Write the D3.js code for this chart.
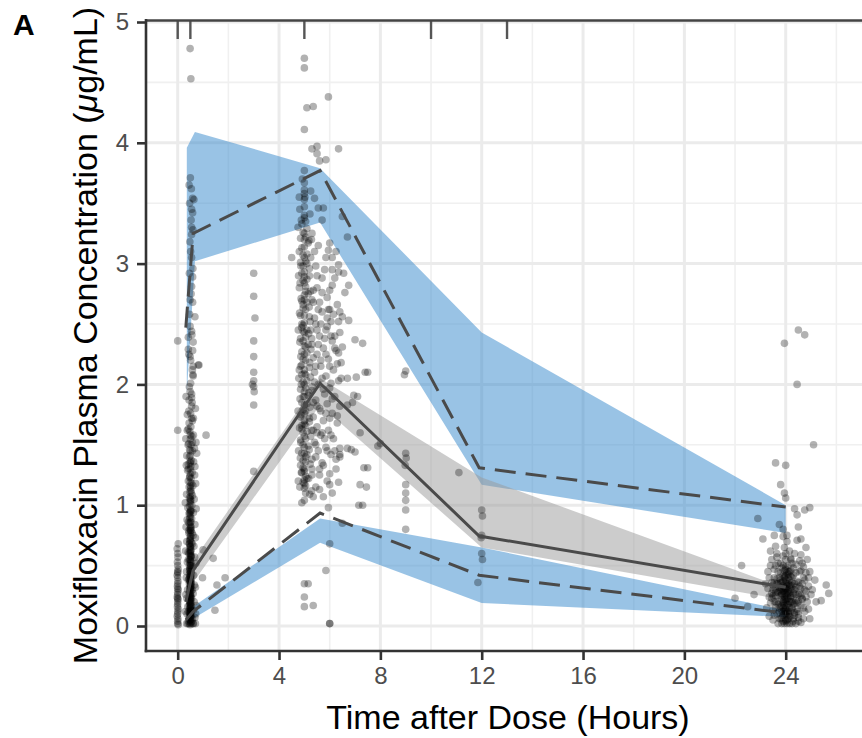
<!DOCTYPE html>
<html>
<head>
<meta charset="utf-8">
<script src="https://cdn.jsdelivr.net/npm/d3@7/dist/d3.min.js"></script>
<style>
  body { margin: 0; background: #fff; }
  text { font-family: "Liberation Sans", Arial, Helvetica, sans-serif; }
</style>
</head>
<body>
<svg id="chart" width="862" height="738"></svg>
<script>
// ---- data ----
var binEdges = [0, 0.5, 5, 10, 13];

// simulated prediction intervals (CI of 5th, 50th, 95th percentile)
var simTime = [0.36, 0.68, 5.62, 12.0, 24.0];
var sim95Lo = [1.93, 3.02, 3.34, 1.17, 0.77];
var sim95Hi = [3.96, 4.09, 3.79, 2.43, 1.00];
var sim50Lo = [0.08, 0.38, 1.83, 0.65, 0.215];
var sim50Hi = [0.22, 0.56, 2.05, 1.23, 0.31];
var sim05Lo = [0.02, 0.07, 0.69, 0.19, 0.075];
var sim05Hi = [0.08, 0.17, 0.89, 0.65, 0.13];

// observed percentiles
var obsTime = [0.32, 0.61, 5.62, 11.9, 24.0];
var obs95 = [2.47, 3.25, 3.77, 1.31, 0.985];
var obs50 = [0.20, 0.46, 2.01, 0.745, 0.32];
var obs05 = [0.05, 0.12, 0.935, 0.42, 0.107];

// observed concentrations [time, conc]
var obsPreDose = [[0,2.36],[0,1.62],[0.02,0.68],[-0.02,0.64],[0,0.6],[0.01,0.57],[-0.01,0.53],[0,0.5],
  [0.02,0.47],[0,0.45],[-0.02,0.42],[0,0.4],[0.01,0.37],[0,0.35],[-0.01,0.33],[0.02,0.3],[0,0.28],
  [0,0.26],[-0.02,0.24],[0.01,0.22],[0,0.2],[0,0.18],[-0.01,0.16],[0.02,0.14],[0,0.12],[0,0.1],
  [-0.02,0.08],[0.01,0.06],[0,0.04],[0,0.02],[0.02,0.01],[0,0.31],[0,0.44],[0,0.23]];

var obsHalfHour = [[0.49,4.78],[0.52,4.53],
  [0.5,3.71],[0.45,3.65],[0.59,3.54],[0.64,3.53],[0.55,3.45],[0.59,3.42],[0.55,3.3],[0.6,3.28],
  [0.55,3.24],[0.51,3.1],[0.6,2.96],[0.59,2.89],[0.55,2.81],[0.49,2.7],[0.59,2.68],[0.68,2.56],
  [0.49,2.48],[0.55,2.44],[0.42,2.39],[0.61,2.35],[0.42,2.29],[0.59,2.28],[0.49,2.23],[0.51,2.2],
  [0.81,2.16],[0.61,2.15],[0.61,2.07],[0.51,2.01],[0.49,1.94],[0.55,1.89],[0.55,1.82],[0.51,1.76],
  [0.55,1.72],[0.6,2.08],[0.75,1.43],[0.68,1.32],
  [0.45,1.68],[0.52,1.65],[0.48,1.61],[0.56,1.57],[0.5,1.55],[0.44,1.51],[0.53,1.5],[0.47,1.46],
  [0.58,1.45],[0.5,1.41],[0.46,1.4],[0.54,1.37],[0.49,1.35],[0.52,1.32],[0.43,1.3],[0.57,1.27],
  [0.5,1.26],[0.47,1.23],[0.53,1.22],[0.49,1.19],[0.55,1.18],[0.45,1.15],[0.51,1.14],[0.48,1.11],
  [0.54,1.1],[0.5,1.07],[0.46,1.06],[0.52,1.04],[0.49,1.03],[0.56,1.0],[0.47,0.99],[0.51,0.96],
  [0.53,0.95],[0.45,0.93],[0.5,0.92],[0.48,0.89],[0.55,0.89],[0.52,0.86],[0.46,0.85],[0.5,0.83],
  [0.53,0.82],[0.48,0.8],[0.51,0.79],[0.44,0.77],[0.57,0.77],[0.49,0.74],[0.52,0.74],[0.47,0.71],
  [0.5,0.71],[0.54,0.69],[0.46,0.68],[0.51,0.66],[0.49,0.66],[0.53,0.63],[0.48,0.63],[0.5,0.61],
  [0.45,0.6],[0.55,0.58],[0.52,0.58],[0.47,0.55],[0.5,0.55],[0.53,0.53],[0.49,0.52],[0.46,0.5],
  [0.51,0.5],[0.54,0.48],[0.48,0.48],[0.5,0.45],[0.52,0.45],[0.47,0.43],[0.55,0.43],[0.49,0.41],
  [0.51,0.41],[0.45,0.39],[0.53,0.39],[0.5,0.37],[0.48,0.37],[0.52,0.35],[0.46,0.35],[0.5,0.33],
  [0.54,0.33],[0.49,0.31],[0.51,0.31],[0.47,0.29],[0.53,0.29],[0.5,0.27],[0.45,0.27],[0.52,0.25],
  [0.48,0.25],[0.55,0.23],[0.5,0.23],[0.47,0.21],[0.51,0.21],[0.53,0.19],[0.49,0.19],[0.46,0.17],
  [0.52,0.17],[0.5,0.15],[0.48,0.15],[0.54,0.13],[0.51,0.13],[0.47,0.11],[0.5,0.11],[0.53,0.09],
  [0.49,0.09],[0.45,0.07],[0.52,0.07],[0.5,0.05],[0.48,0.05],[0.55,0.04],[0.51,0.03],[0.46,0.02],
  [0.53,0.02],[0.49,0.01],[0.6,0.02],[0.4,0.02],[0.35,0.02],[0.62,0.02],[0.7,0.02],
  [0.5,0.6],[0.52,0.5],[0.48,0.4],[0.5,0.3],[0.47,0.2],[0.53,0.16],[0.5,0.1],[0.51,0.81],
  [0.49,0.9],[0.5,1.01],[0.52,1.12],[0.48,1.24],[0.5,1.36],[0.51,0.62],[0.49,0.47],[0.5,0.34],
  [0.52,0.24],[0.48,0.12],[0.5,0.07],[0.5,0.72],[0.5,0.54],[0.51,0.44],[0.49,0.32],[0.5,0.18],
  [0.38,1.62],[0.62,1.58],[0.41,1.5],[0.66,1.47],[0.36,1.41],[0.63,1.36],[0.39,1.29],[0.67,1.25],
  [0.42,1.2],[0.6,1.16],[0.35,1.09],[0.65,1.05],[0.4,0.98],[0.62,0.94],[0.37,0.88],[0.68,0.84],
  [0.43,0.79],[0.61,0.75],[0.36,0.7],[0.64,0.66],[0.41,0.61],[0.67,0.57],[0.38,0.53],[0.6,0.49],
  [0.35,0.45],[0.63,0.42],[0.42,0.38],[0.66,0.34],[0.39,0.3],[0.61,0.27],[0.36,0.23],[0.65,0.2],
  [0.4,0.16],[0.62,0.13],[0.37,0.1],[0.68,0.07],[0.43,0.04],[0.58,1.7],[0.44,1.78],[0.57,1.85],
  [0.46,1.98],[0.58,2.12],[0.44,2.25],[0.56,2.41],[0.47,2.58],[0.53,2.75],[0.46,2.92],[0.55,3.05],
  [0.48,3.18],[0.53,3.36],[0.47,3.5],[0.54,3.62],
  [0.5,0.65],[0.5,0.58],[0.5,0.42],[0.5,0.38],[0.5,0.26],[0.5,0.22],[0.5,0.14],[0.5,0.08],
  [0.5,0.77],[0.5,0.86],[0.5,0.95],[0.5,1.05],[0.5,1.16],[0.5,1.3],[0.5,1.45],[0.5,1.58],
  [0.53,0.57],[0.47,0.46],[0.53,0.36],[0.47,0.24],[0.53,0.12],[0.47,0.68],[0.53,0.79],[0.47,0.94],
  [0.33,1.9],[0.7,1.8],[0.32,1.55],[0.72,1.52],[0.34,1.33],[0.71,1.18],[0.3,1.02],[0.73,0.97],
  [0.33,0.82],[0.7,0.73],[0.31,0.62],[0.72,0.52],[0.34,0.4],[0.7,0.32],[0.32,0.26],[0.73,0.17],
  [0.3,0.12],[0.71,0.1],[0.55,1.92],[0.45,1.87],[0.62,1.72],[0.38,1.75],[0.58,0.06],[0.42,0.12],
  [0.58,0.3],[0.42,0.55],[0.58,0.68],[0.42,0.86],[0.58,1.08],[0.42,1.34],[0.58,1.52],[0.42,1.63]];

var obsEarly = [[1.12,1.58],[0.84,2.16],[1.0,0.63],[1.4,0.56],[0.98,0.4],[1.87,0.4],[1.47,0.13],
  [1.55,0.34],[3.0,2.92],[3.0,2.73],[3.05,2.55],[3.0,2.36],[3.0,2.23],[3.0,2.1],[3.0,1.98],
  [3.02,1.94],[3.0,1.83],[3.0,1.28],[2.95,2.0],[3.0,2.03]];

var obsPeak = [[5.0,4.7],[5.0,4.62],[5.1,4.29],[5.35,4.3],[5.0,4.11],[5.95,4.38],
  [5.3,3.95],[5.5,3.97],[5.5,3.91],[5.6,3.85],[5.85,3.86],[6.35,3.95],
  [5.0,3.77],[5.0,3.67],[5.0,3.61],[5.0,3.53],[5.0,3.47],[5.0,3.4],[5.0,3.38],[5.4,3.54],
  [5.55,3.46],[5.75,3.46],[5.7,3.36],[6.5,3.39],[6.7,3.22],[4.5,3.05],[6.0,3.17],[5.95,3.11],
  [6.1,3.05],[6.35,2.99],[6.1,2.95],[6.55,2.92],[6.35,2.93],[6.75,2.82],[6.6,2.76],[6.0,2.78],
  [6.4,2.6],[6.5,2.56],[6.75,2.53],[7.0,2.37],[7.3,2.34],[6.5,2.31],[6.35,2.26],[7.05,2.06],
  [7.5,2.1],[6.7,2.05],[7.1,1.9],[6.9,1.85],[7.2,1.6],[7.0,1.44],[6.7,1.47],[7.5,1.31],
  [7.45,1.15],[7.3,1.0],[8.0,1.51],[7.9,1.49],[6.4,1.47],[6.4,1.4],[7.4,2.1],[6.95,1.91],
  [6.7,1.83],[6.85,1.46],[7.35,1.31],[7.2,1.17],[7.15,1.0],[6.4,1.42],[6.35,1.19],[5.95,0.98],
  [5.75,1.07],[5.35,1.07],[5.05,1.1],[5.0,1.14],[5.0,1.21],[4.95,1.31],[5.6,1.13],[6.0,1.17],
  [6.5,0.85],[6.0,0.68],[5.85,0.46],[5.0,0.35],[5.15,0.35],[5.0,0.24],[5.0,0.16],[5.35,0.17],
  [6.0,0.02],[6.0,0.02],
  [4.9,3.33],[5.1,3.29],[4.95,3.26],[5.05,3.22],[4.85,3.21],[5.15,3.17],[5.0,3.14],[4.9,3.13],
  [5.1,3.08],[4.95,3.07],[5.05,3.02],[4.85,3.01],[5.2,2.96],[5.0,2.93],[4.9,2.92],[5.1,2.87],
  [4.95,2.86],[5.05,2.81],[4.8,2.8],[5.15,2.75],[5.0,2.74],[4.9,2.69],[5.1,2.68],[4.95,2.63],
  [5.05,2.62],[4.85,2.57],[5.2,2.56],[5.0,2.51],[4.9,2.5],[5.1,2.45],[4.95,2.44],[5.05,2.39],
  [4.85,2.38],[5.15,2.33],[5.0,2.32],[4.9,2.27],[5.1,2.26],[4.95,2.21],[5.05,2.2],[4.85,2.15],
  [5.2,2.14],[5.0,2.09],[4.9,2.08],[5.1,2.03],[4.95,2.02],[5.05,1.97],[4.85,1.96],[5.15,1.91],
  [5.0,1.9],[4.9,1.85],[5.1,1.84],[4.95,1.79],[5.05,1.78],[4.85,1.73],[5.2,1.72],[5.0,1.67],
  [4.9,1.66],[5.1,1.61],[4.95,1.6],[5.05,1.55],[4.85,1.54],[5.15,1.49],[5.0,1.48],[4.9,1.43],
  [5.1,1.42],[4.95,1.37],[5.05,1.36],[4.85,1.33],[5.0,1.28],[4.9,1.27],[5.1,1.22],[4.95,1.19],
  [5.05,1.16],[5.0,1.04],[4.9,1.63],[5.0,1.94],[5.05,2.31],[4.95,2.66],[5.0,2.89],[5.1,3.0],
  [4.9,2.16],[5.0,1.76],[5.05,1.4],[4.95,2.49],[5.0,3.25],[5.0,3.58],[4.92,3.7],[5.02,3.55],
  [5.4,3.1],[5.8,2.95],[6.2,2.88],[5.5,2.8],[5.9,2.72],[5.35,2.68],[6.3,2.66],[5.7,2.6],
  [6.05,2.52],[5.45,2.5],[5.85,2.45],[6.4,2.43],[5.6,2.4],[6.1,2.36],[5.3,2.33],[5.75,2.3],
  [6.25,2.28],[5.5,2.25],[5.95,2.21],[6.45,2.18],[5.65,2.15],[6.15,2.12],[5.4,2.1],[5.85,2.07],
  [6.35,2.03],[5.55,2.0],[6.0,1.97],[5.3,1.95],[5.8,1.92],[6.2,1.9],[5.45,1.87],[5.9,1.84],
  [6.4,1.82],[5.6,1.8],[6.1,1.76],[5.35,1.73],[5.75,1.7],[6.3,1.68],[5.5,1.65],[5.95,1.62],
  [5.65,1.58],[6.15,1.55],[5.4,1.52],[5.85,1.48],[5.55,1.45],[6.05,1.42],[5.3,1.38],[5.7,1.35],
  [6.25,1.3],[5.6,1.25],[5.9,1.2],[5.45,1.15],[6.1,1.1],[5.75,1.33],
  [4.82,3.45],[5.22,3.41],[4.88,3.36],[5.18,3.19],[4.8,3.1],[5.25,3.05],[4.86,2.98],[5.2,2.9],
  [4.83,2.84],[5.24,2.77],[4.87,2.71],[5.19,2.64],[4.81,2.59],[5.23,2.52],[4.89,2.47],[5.17,2.42],
  [4.82,2.35],[5.26,2.29],[4.86,2.23],[5.21,2.18],[4.8,2.12],[5.24,2.06],[4.88,2.0],[5.18,1.93],
  [4.83,1.88],[5.22,1.81],[4.87,1.75],[5.2,1.69],[4.81,1.64],[5.25,1.57],[4.86,1.52],[5.19,1.46],
  [4.84,1.39],[5.23,1.34],[4.88,1.27],[5.17,1.22],[4.82,1.15],[5.21,1.09],[4.9,1.02],
  [5.0,3.2],[5.0,3.05],[5.0,2.84],[5.0,2.7],[5.0,2.57],[5.0,2.43],[5.0,2.25],[5.0,2.12],
  [5.0,2.0],[5.0,1.83],[5.0,1.7],[5.0,1.57],[5.0,1.43],[5.0,1.3],[5.0,1.18],[5.05,3.35],
  [4.95,2.98],[5.05,2.77],[4.95,2.36],[5.05,2.08],[4.95,1.9],[5.05,1.66],[4.95,1.5],[5.05,1.24],
  [5.5,2.9],[5.7,2.76],[6.0,2.62],[5.4,2.55],[5.9,2.48],[6.2,2.4],[5.55,2.33],[5.85,2.25],
  [6.3,2.17],[5.45,2.15],[5.7,2.05],[6.05,2.01],[5.35,1.85],[5.65,1.78],[6.0,1.72],[5.5,1.6],
  [5.8,1.55],[6.2,1.45],[5.45,1.4],[5.6,2.68],[6.15,2.58],
  [5.3,3.25],[5.55,3.15],[5.85,3.05],[6.25,3.1],[5.45,2.98],[5.7,2.88],[6.1,2.82],[5.35,2.78],
  [5.95,2.62],[6.35,2.52],[5.5,2.45],[5.8,2.38],[6.2,2.3],[5.35,2.22],[5.65,2.2],[6.0,2.15],
  [6.45,2.05],[5.4,2.02],[5.75,1.96],[6.1,1.88],[5.5,1.82],[5.85,1.76],[6.3,1.74],[5.35,1.62],
  [5.7,1.6],[6.05,1.58],[5.45,1.5],[5.9,1.45],[6.25,1.38],[5.6,1.3],[5.3,1.25],[6.0,1.26],
  [5.55,2.62],[5.9,2.55],[5.25,2.45],[5.65,2.5],[6.05,2.4],
  [4.75,3.3],[5.28,3.2],[4.77,2.9],[5.3,2.7],[4.76,2.45],[5.29,2.38],[4.78,2.05],[5.3,1.98],
  [4.75,1.78],[5.28,1.62],[4.77,1.45],[5.3,1.3],[4.76,1.2],[5.29,1.12],[4.8,3.55],[5.25,3.6]];

var obsMid = [[9.0,2.11],[9.0,1.43],[9.02,1.39],[8.98,1.33],[9.0,1.17],[9.0,1.1],[9.0,1.04],
  [9.0,0.96],[9.0,0.8],[8.95,2.08],[11.1,1.27],[12.0,0.96],[12.03,0.91],[12.0,0.75],[11.98,0.73],
  [12.0,0.6],[12.03,0.55],[11.85,0.36]];

var obsTrough = [[23.95,2.34],[24.5,2.45],[24.75,2.41],[24.45,2.0],[25.1,1.5],[23.6,1.35],
  [24.0,1.33],[23.8,1.17],[23.95,1.1],[24.0,1.06],[24.35,0.97],[24.45,0.92],[24.75,0.96],
  [24.95,0.98],[22.9,0.89],[23.1,0.72],[23.75,0.84],[23.9,0.8],[24.5,0.82],[24.05,0.75],
  [24.45,0.71],[22.26,0.5],[22.0,0.23],[22.5,0.16],[22.75,0.26],[25.6,0.34],[25.7,0.27],
  [25.4,0.21],[24.15,0.62],[23.6,0.66],
  [23.9,0.58],[24.2,0.55],[23.7,0.52],[24.4,0.51],[24.0,0.49],[23.55,0.47],[24.6,0.46],
  [24.1,0.45],[23.8,0.44],[24.3,0.42],[23.95,0.41],[24.7,0.4],[23.65,0.39],[24.15,0.38],
  [24.45,0.37],[23.85,0.36],[24.05,0.35],[23.5,0.34],[24.55,0.33],[24.25,0.33],[23.75,0.32],
  [24.0,0.31],[24.35,0.3],[23.9,0.29],[24.8,0.29],[23.6,0.28],[24.1,0.27],[24.5,0.26],
  [23.8,0.25],[24.2,0.25],[23.95,0.24],[24.65,0.23],[23.45,0.23],[24.05,0.22],[24.4,0.21],
  [23.7,0.2],[24.15,0.2],[23.9,0.19],[24.3,0.18],[24.6,0.17],[23.85,0.17],[24.0,0.16],
  [23.6,0.15],[24.25,0.15],[24.45,0.14],[23.95,0.13],[24.1,0.12],[23.75,0.12],[24.35,0.11],
  [24.0,0.1],[23.9,0.09],[24.2,0.08],[24.5,0.07],[23.8,0.06],[24.05,0.05],[24.3,0.04],
  [23.7,0.02],[23.95,0.02],[24.4,0.02],[24.15,0.02],[24.6,0.03],
  [24.0,0.3],[24.1,0.35],[23.95,0.4],[24.05,0.25],[24.0,0.2],[24.2,0.3],[23.85,0.27],
  [24.1,0.43],[24.0,0.14],[23.9,0.33],[24.15,0.28],[24.05,0.18],[23.95,0.22],[24.25,0.36],
  [24.0,0.47],[23.8,0.38],[24.3,0.24],[24.1,0.1],[24.0,0.05],[23.9,0.15],[24.2,0.41],
  [24.05,0.31],[23.75,0.29],[24.35,0.19],[24.9,0.33],[25.0,0.26],[24.85,0.2],[23.3,0.31],
  [23.4,0.19],[25.15,0.38],[24.75,0.12],[23.55,0.09],[24.55,0.54],[23.65,0.57],[24.8,0.44],
  [23.85,0.48],[24.2,0.46],[24.05,0.44],[23.9,0.42],[24.25,0.4],[24.0,0.38],[23.8,0.36],
  [24.15,0.34],[23.95,0.32],[24.3,0.3],[24.05,0.28],[23.85,0.26],[24.2,0.24],[24.0,0.22],
  [23.9,0.2],[24.1,0.18],[23.8,0.16],[24.25,0.14],[24.05,0.12],[23.95,0.1],[24.15,0.08],
  [23.85,0.07],[24.3,0.06],[24.0,0.04],[23.7,0.45],[24.4,0.44],[23.65,0.35],[24.5,0.36],
  [23.6,0.25],[24.55,0.27],[23.7,0.18],[24.45,0.19],[23.65,0.1],[24.5,0.1],[23.55,0.4],
  [24.6,0.31],[23.5,0.3],[24.65,0.22],[23.55,0.2],[24.7,0.15],
  [24.0,0.36],[24.1,0.4],[23.9,0.37],[24.05,0.33],[23.95,0.28],[24.1,0.23],[23.95,0.17],
  [24.0,0.26],[24.2,0.2],[23.85,0.22],[24.1,0.29],[24.0,0.12],[24.15,0.15],[23.9,0.12],
  [24.05,0.08],[24.2,0.34],[23.85,0.31],[24.0,0.42],[24.1,0.5],[23.9,0.5],[24.2,0.56],
  [24.0,0.6],[23.95,0.65],[24.3,0.48],[23.75,0.4],[24.4,0.26],[23.6,0.31],[24.35,0.09],
  [23.75,0.06],[24.25,0.02],[23.85,0.02],[24.05,0.02],[24.5,0.04],[23.5,0.13],[24.8,0.24],
  [24.9,0.14],[23.35,0.24],[23.45,0.36],[24.7,0.49],[24.6,0.59],[23.45,0.55],[24.05,0.7],
  [23.9,0.74],
  [23.3,0.45],[23.2,0.35],[23.25,0.15],[23.35,0.08],[24.85,0.55],[24.95,0.45],[25.05,0.3],
  [24.95,0.06],[25.2,0.2],[23.4,0.62],[24.8,0.65],[23.55,0.75],[24.6,0.72],[23.4,0.5],
  [24.75,0.38],[23.45,0.27],[24.75,0.3],[23.5,0.05],[24.7,0.06],[23.35,0.4],[24.9,0.4],
  [24.65,0.52],[23.6,0.5],[24.55,0.45],[23.65,0.6],[24.35,0.6],[23.7,0.28],[24.35,0.35],
  [23.75,0.15],[24.45,0.12],[23.8,0.52],[24.25,0.52],[23.85,0.12],[24.3,0.27],[23.9,0.04],
  [24.2,0.12],[23.95,0.46],[24.1,0.06],[24.0,0.55],[24.15,0.45],[23.8,0.3],[24.25,0.2],
  [23.7,0.35],[24.4,0.32],[23.6,0.2],[24.5,0.2],[23.5,0.25],[24.6,0.25],[23.55,0.36],
  [24.65,0.35]];

// ---- layout ----
var W = 862, H = 738;
var panel = { left: 146, right: 875, top: 20, bottom: 651 };

var svg = d3.select('#chart');
var x = d3.scaleLinear().domain([0, 24]).range([177.7, 785.7]);
var y = d3.scaleLinear().domain([0, 5]).range([626, 22]);

svg.append('defs').append('clipPath').attr('id', 'clip')
  .append('rect')
  .attr('x', panel.left).attr('y', panel.top)
  .attr('width', panel.right - panel.left).attr('height', panel.bottom - panel.top);

// grid
var grid = svg.append('g');
[2, 6, 10, 14, 18, 22, 26].forEach(function (v) {
  grid.append('line').attr('x1', x(v)).attr('x2', x(v)).attr('y1', panel.top).attr('y2', panel.bottom)
    .attr('stroke', '#f0f0f0').attr('stroke-width', 1.6);
});
[0.5, 1.5, 2.5, 3.5, 4.5].forEach(function (v) {
  grid.append('line').attr('y1', y(v)).attr('y2', y(v)).attr('x1', panel.left).attr('x2', panel.right)
    .attr('stroke', '#f0f0f0').attr('stroke-width', 1.6);
});
[0, 4, 8, 12, 16, 20, 24].forEach(function (v) {
  grid.append('line').attr('x1', x(v)).attr('x2', x(v)).attr('y1', panel.top).attr('y2', panel.bottom)
    .attr('stroke', '#ebebeb').attr('stroke-width', 3);
});
[0, 1, 2, 3, 4, 5].forEach(function (v) {
  grid.append('line').attr('y1', y(v)).attr('y2', y(v)).attr('x1', panel.left).attr('x2', panel.right)
    .attr('stroke', '#ebebeb').attr('stroke-width', 3);
});

var plot = svg.append('g').attr('clip-path', 'url(#clip)');

// ribbons
function ribbon(lo, hi) {
  var rows = simTime.map(function (t, i) { return { t: t, lo: lo[i], hi: hi[i] }; });
  return d3.area()
    .x(function (d) { return x(d.t); })
    .y0(function (d) { return y(d.lo); })
    .y1(function (d) { return y(d.hi); })(rows);
}
plot.append('path').attr('d', ribbon(sim95Lo, sim95Hi)).attr('fill', '#3388cc').attr('fill-opacity', 0.5);
plot.append('path').attr('d', ribbon(sim05Lo, sim05Hi)).attr('fill', '#3388cc').attr('fill-opacity', 0.5);
plot.append('path').attr('d', ribbon(sim50Lo, sim50Hi)).attr('fill', '#999999').attr('fill-opacity', 0.5);

// observed points
var allPts = [].concat(obsPreDose, obsHalfHour, obsEarly, obsPeak, obsMid, obsTrough);
plot.selectAll('circle.obs').data(allPts).enter().append('circle')
  .attr('class', 'obs')
  .attr('cx', function (d) { return x(d[0]); })
  .attr('cy', function (d) { return y(d[1]); })
  .attr('r', 3.8)
  .attr('fill', '#000')
  .attr('fill-opacity', 0.3);

// observed percentile lines
var line = d3.line()
  .x(function (d) { return x(d[0]); })
  .y(function (d) { return y(d[1]); });
function pts(vals) { return obsTime.map(function (t, i) { return [t, vals[i]]; }); }
plot.append('path').attr('d', line(pts(obs95))).attr('fill', 'none')
  .attr('stroke', '#4a4a4a').attr('stroke-width', 3).attr('stroke-dasharray', '21,10');
plot.append('path').attr('d', line(pts(obs05))).attr('fill', 'none')
  .attr('stroke', '#4a4a4a').attr('stroke-width', 3).attr('stroke-dasharray', '21,10');
plot.append('path').attr('d', line(pts(obs50))).attr('fill', 'none')
  .attr('stroke', '#4a4a4a').attr('stroke-width', 3);

// bin separators along the top
binEdges.forEach(function (b) {
  svg.append('line').attr('x1', x(b)).attr('x2', x(b)).attr('y1', panel.top).attr('y2', 39)
    .attr('stroke', '#555').attr('stroke-width', 2.4);
});
svg.append('line').attr('x1', panel.left).attr('x2', W).attr('y1', panel.top + 0.5).attr('y2', panel.top + 0.5)
  .attr('stroke', '#444').attr('stroke-width', 2.4);

// axes
var fmt = d3.format('d');
var yAxis = d3.axisLeft(y).tickValues([0, 1, 2, 3, 4, 5]).tickFormat(fmt)
  .tickSize(9).tickPadding(8).tickSizeOuter(0);
var xAxis = d3.axisBottom(x).tickValues([0, 4, 8, 12, 16, 20, 24]).tickFormat(fmt)
  .tickSize(9).tickPadding(7).tickSizeOuter(0);

var gy = svg.append('g').attr('transform', 'translate(' + panel.left + ',0)').call(yAxis);
var gx = svg.append('g').attr('transform', 'translate(0,' + panel.bottom + ')').call(xAxis);
[gy, gx].forEach(function (g) {
  g.select('.domain').remove();
  g.selectAll('.tick line').attr('stroke', '#333').attr('stroke-width', 2.6);
  g.selectAll('.tick text').attr('fill', '#4d4d4d').style('font-size', '24px')
    .style('font-family', '"Liberation Sans", Arial, sans-serif');
});
svg.append('line').attr('x1', panel.left).attr('x2', panel.left).attr('y1', panel.top - 1).attr('y2', panel.bottom + 1.3)
  .attr('stroke', '#333').attr('stroke-width', 2.6);
svg.append('line').attr('x1', panel.left - 1.3).attr('x2', W).attr('y1', panel.bottom).attr('y2', panel.bottom)
  .attr('stroke', '#333').attr('stroke-width', 2.6);

// titles
svg.append('text').attr('x', (panel.left + 870) / 2).attr('y', 729)
  .attr('text-anchor', 'middle').style('font-size', '34px').attr('fill', '#000')
  .text('Time after Dose (Hours)');

var yt = svg.append('text')
  .attr('transform', 'translate(97,' + ((panel.top + panel.bottom) / 2) + ') rotate(-90)')
  .attr('text-anchor', 'middle').style('font-size', '34px').attr('fill', '#000');
yt.append('tspan').text('Moxifloxacin Plasma Concentration (');
yt.append('tspan').style('font-style', 'italic').text('\u03BC');
yt.append('tspan').text('g/mL)');

svg.append('text').attr('x', 13).attr('y', 35).style('font-size', '30px').style('font-weight', 'bold')
  .attr('fill', '#000').text('A');
</script>
</body>
</html>
